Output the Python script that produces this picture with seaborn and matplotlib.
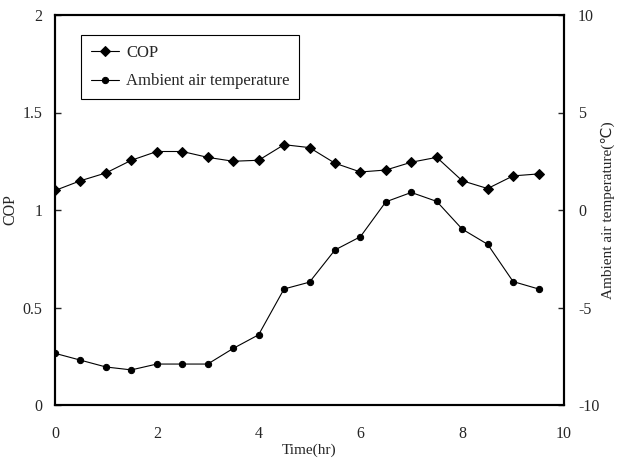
import numpy as np
import pandas as pd
import seaborn as sns
from matplotlib import pyplot as plt
from matplotlib.ticker import FuncFormatter

# values (half-hour steps)
time_hr = [0, 0.5, 1, 1.5, 2, 2.5, 3, 3.5, 4, 4.5,
           5, 5.5, 6, 6.5, 7, 7.5, 8, 8.5, 9, 9.5]
cop = [1.10, 1.15, 1.19, 1.255, 1.30, 1.30, 1.27, 1.25, 1.255, 1.335,
       1.32, 1.24, 1.195, 1.205, 1.245, 1.27, 1.15, 1.11, 1.175, 1.185]
ambient_temp = [-7.35, -7.7, -8.05, -8.2, -7.9, -7.9, -7.9, -7.1, -6.4, -4.05,
                -3.7, -2.05, -1.37, 0.42, 0.9, 0.44, -0.98, -1.76, -3.67, -4.05]

df = pd.DataFrame({'Time': time_hr, 'COP': cop, 'Temp': ambient_temp})

sns.set_style('white')
plt.rcParams['font.family'] = ['Liberation Serif', 'DejaVu Sans']
plt.rcParams['font.size'] = 11

fig = plt.figure(figsize=(6.2, 4.58), dpi=100)
ax = fig.add_axes([55 / 620, 53 / 458, 509 / 620, 390 / 458])
ax2 = ax.twinx()

sns.lineplot(data=df, x='Time', y='COP', ax=ax, color='black', linewidth=0.8,
             marker='D', markersize=5, markeredgecolor='black', legend=False)
sns.lineplot(data=df, x='Time', y='Temp', ax=ax2, color='black', linewidth=0.8,
             marker='o', markersize=4.5, markeredgecolor='black', legend=False)

ax.set_xlim(0, 10)
ax.set_ylim(0, 2)
ax2.set_ylim(-10, 10)
ax.set_xticks([0, 2, 4, 6, 8, 10])
ax.set_yticks([0, 0.5, 1, 1.5, 2])
ax2.set_yticks([-10, -5, 0, 5, 10])
fmt = FuncFormatter(lambda v, p: '%g' % v)
ax.yaxis.set_major_formatter(fmt)
ax2.yaxis.set_major_formatter(fmt)

ax.tick_params(axis='x', direction='in', length=4, width=1, pad=15, labelsize=11.5)
ax.tick_params(axis='y', direction='in', length=4, width=1, pad=9, labelsize=11.5,
               left=True, right=False)
ax2.tick_params(axis='y', direction='in', length=4, width=1, pad=10, labelsize=11.5,
                right=True, left=False)

for a in (ax, ax2):
    for s in a.spines.values():
        s.set_linewidth(1.5)
        s.set_color('black')
        s.set_visible(True)

ax.set_xlabel('Time(hr)', fontsize=11)
ax.xaxis.set_label_coords(0.5, -0.1)
ax.set_ylabel('COP', fontsize=11.5, labelpad=3)
ax2.set_ylabel('Ambient air temperature(\u2103)', fontsize=11, labelpad=1)

handles = [ax.lines[0], ax2.lines[0]]
labels = ['COP', 'Ambient air temperature']
leg = ax.legend(handles, labels, loc='upper left', bbox_to_anchor=(0.051, 0.949),
                borderaxespad=0, fancybox=False, framealpha=1, edgecolor='black',
                fontsize=12, handlelength=1.7, handletextpad=0.4, labelspacing=0.75,
                borderpad=0.6)
leg.get_frame().set_linewidth(0.8)

fig.savefig('out.png', dpi=100)
